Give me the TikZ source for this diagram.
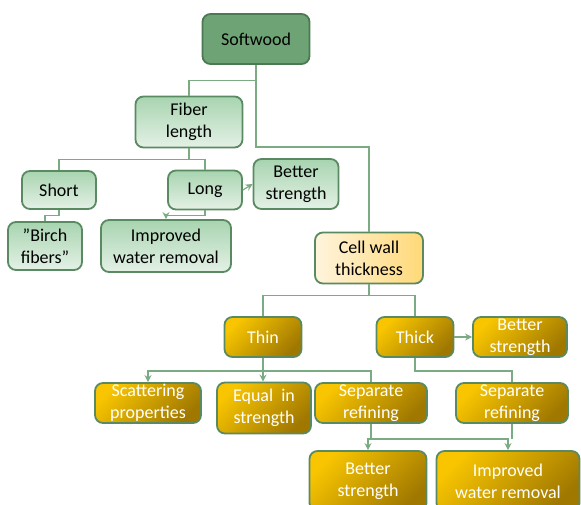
\documentclass[tikz,border=0pt]{standalone}
\usepackage{fontspec}
\setmainfont{Carlito}
\usepackage{xcolor}
\usetikzlibrary{positioning, arrows.meta}
\definecolor{edgegreen}{HTML}{7AAB82}
\definecolor{rimgreen}{HTML}{5A8A62}
\definecolor{rootfill}{HTML}{6EA475}
\definecolor{rootrim}{HTML}{4A7A52}
\definecolor{leaftop}{HTML}{A8D4B0}
\definecolor{leafbot}{HTML}{E4F1E6}
\definecolor{creamlight}{HTML}{FFF4DC}
\definecolor{creamdark}{HTML}{FFD978}
\definecolor{goldlight}{HTML}{F8C500}
\definecolor{golddark}{HTML}{A07800}

\begin{document}
\begin{tikzpicture}[x=1pt, y=-1pt,
  box/.style={draw, line width=1.8pt, rounded corners=8pt, align=center, inner sep=0pt,
    font=\fontsize{18}{22}\selectfont},
  rootbox/.style={box, draw=rootrim, fill=rootfill},
  greenbox/.style={box, draw=rimgreen, top color=leaftop, bottom color=leafbot},
  creambox/.style={box, draw=rimgreen, left color=creamlight, right color=creamdark},
  goldbox/.style={box, draw=rimgreen, top color=goldlight, bottom color=golddark,
    shading angle=45, text=white},
  link/.style={draw=edgegreen, line width=1.2pt},
  arrow/.style={link, -{Stealth[length=7pt, width=7pt]}}]
\useasboundingbox (0,0) rectangle (581,505);

% left branch: fibre length
\node[rootbox, minimum width=107pt, minimum height=50pt] (softwood) at (256,39) {Softwood};
\node[greenbox, minimum width=107pt, minimum height=51pt] (fiber) at (189,122) {Fiber\\length};
\node[greenbox, minimum width=74pt, minimum height=38pt] (short) at (59,190) {Short};
\node[greenbox, minimum width=74pt, minimum height=39pt] (long) at (205,190) {Long};
\node[greenbox, minimum width=85pt, minimum height=50pt] (longstr) at (296,184) {Better\\strength};
\node[greenbox, minimum width=74pt, minimum height=48pt] (birch) at (45,246) {”Birch\\fibers”};
\node[greenbox, minimum width=130pt, minimum height=52pt] (longwater) at (166,246) {Improved\\water removal};

% right branch: cell wall thickness
\node[creambox, minimum width=108pt, minimum height=51pt] (cellwall) at (369,258) {Cell wall\\thickness};
\node[goldbox, minimum width=77pt, minimum height=40pt] (thin) at (263,337) {Thin};
\node[goldbox, minimum width=77pt, minimum height=40pt] (thick) at (415,337) {Thick};
\node[goldbox, minimum width=94pt, minimum height=40pt] (thickstr) at (520,337) {Better\\strength};
\node[goldbox, minimum width=106pt, minimum height=40pt] (scatter) at (148,403) {Scattering\\properties};
\node[goldbox, minimum width=94pt, minimum height=51pt] (equal) at (264,408) {Equal~ in\\strength};
\node[goldbox, minimum width=112pt, minimum height=40pt] (sepleft) at (371,403) {Separate\\refining};
\node[goldbox, minimum width=112pt, minimum height=40pt] (sepright) at (512,403) {Separate\\refining};
\node[goldbox, minimum width=117pt, minimum height=60pt] (finalstr) at (368,481) {Better\\strength};
\node[goldbox, minimum width=143pt, minimum height=60pt] (finalwater) at (508,481) {Improved\\water removal};

% connectors
\draw[link] (softwood.south) -- ++(0,16) -| (fiber.north);
\draw[link] (softwood.south) -- (256,147) -| (cellwall.north);
\draw[link] (fiber.south) -- ++(0,11) -| (short.north);
\draw[link] (fiber.south) -- ++(0,11) -| (long.north);
\draw[link] (short.south) -- ++(0,6) -| (birch.north);
\draw[arrow] (long.south) -- ++(0,5) -| (longwater.north);
\draw[arrow] (long.east) -- (longstr.west);
\draw[link] (cellwall.south) -- ++(0,11) -| (thin.north);
\draw[link] (cellwall.south) -- ++(0,11) -| (thick.north);
\draw[arrow] (thick.east) -- (thickstr.west);
\draw[arrow] (thin.south) -- ++(0,13) -| (scatter.north);
\draw[arrow] (thin.south) -- (equal.north -| thin.south);
\draw[link] (thin.south) -- ++(0,13) -| (sepleft.north);
\draw[link] (thick.south) -- ++(0,13) -| (sepright.north);
\draw[arrow] (sepleft.south) -- ++(0,15) -| (finalstr.north);
\draw[arrow] (sepleft.south) -- ++(0,15) -| (finalwater.north);
\draw[link] (sepright.south) -- ++(0,15);
\end{tikzpicture}
\end{document}
